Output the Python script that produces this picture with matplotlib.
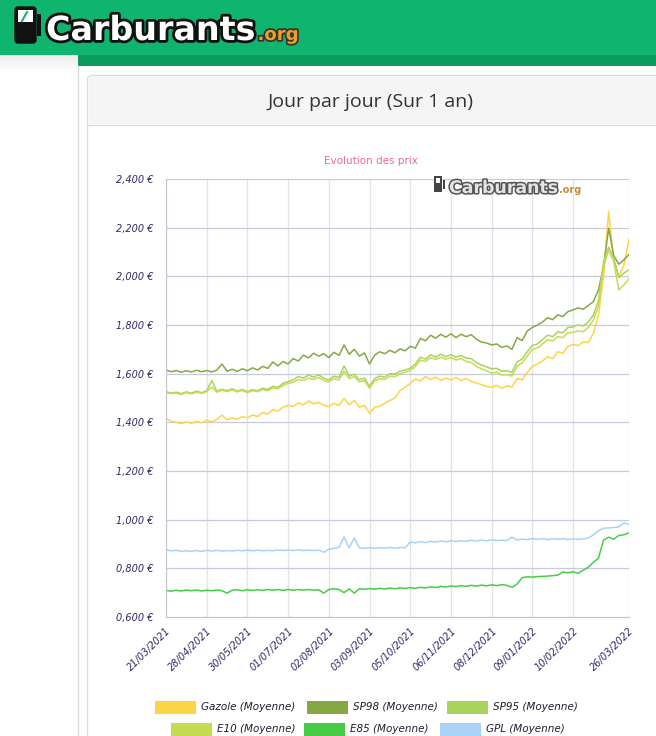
import numpy as np
import matplotlib
matplotlib.use("Agg")
from matplotlib import pyplot as plt
from matplotlib.patches import Rectangle, FancyBboxPatch
import matplotlib.patheffects as pe

# category positions (one every 4 days) and the date labels of the x axis
day_index = list(range(0, 365, 4))
tick_index = [0, 32, 64, 96, 128, 160, 192, 224, 256, 288, 320, 364]
tick_dates = ["21/03/2021", "28/04/2021", "30/05/2021", "01/07/2021", "02/08/2021",
              "03/09/2021", "05/10/2021", "06/11/2021", "08/12/2021", "09/01/2022",
              "10/02/2022", "26/03/2022"]

gazole = [1.416, 1.405, 1.400, 1.395, 1.402, 1.396, 1.404, 1.398,
          1.409, 1.402, 1.412, 1.430, 1.410, 1.418, 1.412, 1.424,
          1.418, 1.430, 1.424, 1.440, 1.434, 1.452, 1.446, 1.462,
          1.470, 1.465, 1.480, 1.472, 1.488, 1.476, 1.482, 1.470,
          1.464, 1.478, 1.470, 1.498, 1.472, 1.490, 1.462, 1.470,
          1.437, 1.462, 1.466, 1.478, 1.490, 1.500, 1.530, 1.545,
          1.560, 1.578, 1.570, 1.588, 1.576, 1.586, 1.572, 1.582,
          1.574, 1.585, 1.572, 1.580, 1.568, 1.562, 1.555, 1.548,
          1.544, 1.552, 1.540, 1.550, 1.545, 1.580, 1.575, 1.605,
          1.630, 1.640, 1.652, 1.670, 1.662, 1.690, 1.684, 1.712,
          1.720, 1.715, 1.730, 1.728, 1.766, 1.840, 2.000, 2.267,
          2.060, 2.000, 2.045, 2.153]
sp98 = [1.615, 1.608, 1.613, 1.606, 1.612, 1.607, 1.614, 1.608,
        1.613, 1.607, 1.615, 1.640, 1.610, 1.618, 1.609, 1.620,
        1.612, 1.624, 1.615, 1.630, 1.622, 1.648, 1.632, 1.650,
        1.640, 1.662, 1.652, 1.676, 1.665, 1.684, 1.672, 1.682,
        1.666, 1.688, 1.675, 1.718, 1.680, 1.700, 1.672, 1.685,
        1.640, 1.676, 1.690, 1.682, 1.696, 1.686, 1.702, 1.694,
        1.712, 1.705, 1.745, 1.735, 1.758, 1.746, 1.762, 1.750,
        1.764, 1.748, 1.762, 1.752, 1.760, 1.742, 1.730, 1.726,
        1.718, 1.722, 1.708, 1.714, 1.700, 1.748, 1.736, 1.775,
        1.790, 1.800, 1.812, 1.830, 1.822, 1.842, 1.835, 1.855,
        1.862, 1.870, 1.865, 1.880, 1.896, 1.944, 2.040, 2.198,
        2.085, 2.050, 2.068, 2.090]
sp95 = [1.526, 1.520, 1.524, 1.518, 1.525, 1.520, 1.528, 1.522,
        1.530, 1.572, 1.528, 1.536, 1.530, 1.538, 1.528, 1.535,
        1.526, 1.534, 1.530, 1.540, 1.536, 1.548, 1.544, 1.560,
        1.567, 1.575, 1.588, 1.582, 1.594, 1.586, 1.595, 1.582,
        1.574, 1.590, 1.584, 1.632, 1.590, 1.598, 1.575, 1.582,
        1.548, 1.580, 1.590, 1.586, 1.600, 1.598, 1.610, 1.615,
        1.622, 1.640, 1.668, 1.660, 1.678, 1.668, 1.680, 1.670,
        1.678, 1.668, 1.675, 1.664, 1.662, 1.645, 1.636, 1.628,
        1.620, 1.622, 1.610, 1.612, 1.606, 1.648, 1.660, 1.690,
        1.716, 1.722, 1.740, 1.758, 1.752, 1.772, 1.768, 1.790,
        1.792, 1.800, 1.796, 1.812, 1.841, 1.900, 2.060, 2.120,
        2.075, 1.995, 2.013, 2.027]
e10 = [1.522, 1.518, 1.520, 1.515, 1.522, 1.517, 1.524, 1.519,
       1.526, 1.545, 1.524, 1.532, 1.526, 1.534, 1.525, 1.531,
       1.522, 1.530, 1.526, 1.535, 1.530, 1.542, 1.538, 1.552,
       1.560, 1.565, 1.576, 1.572, 1.582, 1.576, 1.584, 1.572,
       1.566, 1.580, 1.574, 1.610, 1.580, 1.588, 1.566, 1.572,
       1.540, 1.570, 1.580, 1.576, 1.590, 1.588, 1.600, 1.606,
       1.612, 1.630, 1.656, 1.650, 1.666, 1.658, 1.668, 1.660,
       1.666, 1.656, 1.662, 1.650, 1.646, 1.630, 1.620, 1.612,
       1.602, 1.606, 1.594, 1.596, 1.590, 1.630, 1.645, 1.672,
       1.700, 1.706, 1.722, 1.740, 1.734, 1.752, 1.748, 1.768,
       1.770, 1.776, 1.772, 1.790, 1.821, 1.876, 2.040, 2.109,
       2.060, 1.944, 1.965, 1.990]
e85 = [0.710, 0.706, 0.710, 0.707, 0.711, 0.708, 0.711, 0.707,
       0.710, 0.708, 0.711, 0.708, 0.698, 0.710, 0.712, 0.708,
       0.712, 0.709, 0.712, 0.709, 0.713, 0.710, 0.713, 0.709,
       0.713, 0.710, 0.713, 0.710, 0.713, 0.710, 0.712, 0.698,
       0.713, 0.716, 0.713, 0.700, 0.716, 0.698, 0.716, 0.714,
       0.717, 0.714, 0.718, 0.715, 0.719, 0.716, 0.720, 0.717,
       0.721, 0.718, 0.722, 0.719, 0.724, 0.721, 0.726, 0.723,
       0.728, 0.725, 0.729, 0.726, 0.730, 0.727, 0.731, 0.728,
       0.732, 0.729, 0.733, 0.730, 0.722, 0.735, 0.762, 0.765,
       0.764, 0.766, 0.767, 0.768, 0.770, 0.772, 0.785, 0.782,
       0.786, 0.780, 0.792, 0.805, 0.825, 0.842, 0.916, 0.928,
       0.920, 0.935, 0.938, 0.946]
gpl = [0.877, 0.872, 0.874, 0.870, 0.872, 0.870, 0.873, 0.870,
       0.874, 0.871, 0.874, 0.871, 0.873, 0.871, 0.874, 0.872,
       0.875, 0.872, 0.875, 0.872, 0.874, 0.872, 0.876, 0.873,
       0.875, 0.873, 0.876, 0.873, 0.875, 0.873, 0.875, 0.866,
       0.878, 0.882, 0.886, 0.929, 0.884, 0.925, 0.884, 0.882,
       0.885, 0.882, 0.885, 0.883, 0.886, 0.883, 0.886, 0.884,
       0.908, 0.905, 0.910, 0.906, 0.911, 0.908, 0.912, 0.909,
       0.913, 0.910, 0.914, 0.911, 0.915, 0.912, 0.916, 0.913,
       0.917, 0.914, 0.916, 0.914, 0.928, 0.916, 0.920, 0.918,
       0.922, 0.919, 0.922, 0.918, 0.922, 0.919, 0.922, 0.918,
       0.921, 0.919, 0.921, 0.924, 0.937, 0.955, 0.965, 0.966,
       0.968, 0.970, 0.987, 0.980]

series_names = ["Gazole (Moyenne)", "SP98 (Moyenne)", "SP95 (Moyenne)",
                "E10 (Moyenne)", "E85 (Moyenne)", "GPL (Moyenne)"]
series_values = [gazole, sp98, sp95, e10, e85, gpl]
series_colors = ["#fdd445", "#86a844", "#a8d45e", "#c5dc52", "#48cc48", "#a8d2f6"]

W, H = 656, 736
NAVY = "#2c2a6a"
LOGO_FONT = "DejaVu Sans"


def main():
    fig = plt.figure(figsize=(W / 100, H / 100), dpi=100)
    fig.patch.set_facecolor("white")

    bg = pixel_axes(fig, 0)
    draw_page(fig, bg)

    # plot area in pixels: x 166..629, y 179..617
    left, right, top, bottom = 166, 629, 179, 617
    ax = fig.add_axes([left / W, 1 - bottom / H, (right - left) / W, (bottom - top) / H])
    ax.set_zorder(1)
    draw_chart(ax)

    fg = pixel_axes(fig, 2)
    draw_watermark(fig, fg)
    draw_legend(fg)

    plt.savefig("out.png", dpi=100)
    plt.close()


def pixel_axes(fig, z):
    a = fig.add_axes([0, 0, 1, 1])
    a.set_xlim(0, W)
    a.set_ylim(H, 0)
    a.axis("off")
    a.set_zorder(z)
    a.patch.set_alpha(0)
    return a


def right_edge(fig, a, t):
    # right end of a text, in the pixel coords of axes a
    fig.canvas.draw()
    bb = t.get_window_extent()
    return a.transData.inverted().transform((bb.x1, bb.y0))[0]


def draw_page(fig, bg):
    # green header band
    bg.add_patch(Rectangle((0, 0), W, 55, color="#0fb46f", lw=0))
    bg.add_patch(Rectangle((78, 55), W - 78, 11, color="#0b9d5e", lw=0))
    # soft shadow under the header on the left column
    for i in range(8):
        bg.add_patch(Rectangle((0, 55 + i * 2), 78, 2, color="#000000",
                               alpha=0.07 * (1 - i / 8), lw=0))
    bg.plot([78, 78], [66, H], color="#dddddd", lw=1)

    # pump icon
    bg.add_patch(FancyBboxPatch((15, 7), 21, 36, boxstyle="round,pad=0,rounding_size=3",
                                fc="#111111", ec="#111111"))
    bg.add_patch(Rectangle((18, 10), 15, 12, fc="white", ec="none"))
    bg.plot([22, 27], [21, 12], color="#0fb46f", lw=1.5)
    bg.add_patch(Rectangle((37, 14), 4, 22, fc="#111111", ec="none"))
    outline = [pe.withStroke(linewidth=4, foreground="#111111")]
    t = bg.text(46, 40, "Carburants", fontsize=24, fontweight="bold", color="white",
                family=LOGO_FONT, path_effects=outline, va="baseline")
    x1 = right_edge(fig, bg, t)
    bg.text(x1 + 2, 40, ".org", fontsize=13, fontweight="bold", color="#f0a020",
            family=LOGO_FONT, path_effects=[pe.withStroke(linewidth=2.5, foreground="#333333")],
            va="baseline")

    # card
    bg.add_patch(FancyBboxPatch((87.5, 75.5), 600, 700, boxstyle="round,pad=0,rounding_size=4",
                                fc="white", ec="#dcdcdc", lw=1))
    bg.add_patch(Rectangle((88.5, 76.5), 600, 47.5, fc="#f5f5f5", ec="none"))
    bg.plot([88, W], [124.5, 124.5], color="#dcdcdc", lw=1)
    bg.text(370, 102, "Jour par jour (Sur 1 an)", fontsize=14, color="#333333",
            family="Open Sans", ha="center", va="center")
    bg.text(371, 161, "Evolution des prix", fontsize=7.5, color="#ea6d8d",
            family="DejaVu Sans", ha="center", va="center")


def draw_chart(ax):
    for vals, col in zip(series_values, series_colors):
        ax.plot(day_index, vals, color=col, lw=1.1, solid_joinstyle="round")

    ax.set_xlim(0, 364)
    ax.set_ylim(0.6, 2.4)
    yt = [0.6, 0.8, 1.0, 1.2, 1.4, 1.6, 1.8, 2.0, 2.2, 2.4]
    ax.set_yticks(yt)
    ax.set_yticklabels(["{:.3f} €".format(v).replace(".", ",") for v in yt])
    ax.set_xticks(tick_index)
    ax.set_xticklabels(tick_dates, rotation=45, ha="right", rotation_mode="anchor")

    for lab in ax.get_yticklabels() + ax.get_xticklabels():
        lab.set_fontstyle("italic")
        lab.set_fontsize(7)
        lab.set_color(NAVY)
    ax.tick_params(axis="y", length=0, pad=9)
    ax.tick_params(axis="x", length=0, pad=6)

    ax.grid(axis="y", color="#c9c9dc", lw=0.9)
    ax.grid(axis="x", color="#e2e2ec", lw=0.9)
    ax.set_axisbelow(True)
    for s in ["top", "right"]:
        ax.spines[s].set_visible(False)
    ax.spines["left"].set_color("#c4c4d2")
    ax.spines["bottom"].set_color("#c4c4d2")
    ax.set_facecolor("white")


def draw_watermark(fig, fg):
    fg.add_patch(Rectangle((434, 176), 8, 16, fc="#444444", ec="none"))
    fg.add_patch(Rectangle((436, 178), 4, 5, fc="white", ec="none"))
    fg.add_patch(Rectangle((443, 180), 2, 9, fc="#444444", ec="none"))
    t = fg.text(449, 193, "Carburants", fontsize=12.5, fontweight="bold", color="#e4e4e4",
                family=LOGO_FONT, va="baseline",
                path_effects=[pe.withStroke(linewidth=2.2, foreground="#555555")])
    x1 = right_edge(fig, fg, t)
    fg.text(x1 + 1, 193, ".org", fontsize=7, fontweight="bold", color="#c98a3a",
            family=LOGO_FONT, va="baseline")


def draw_legend(fg):
    # (swatch left x, centre y) for every series, two rows as in the page
    slots = [(155, 707), (307, 707), (447, 707), (171, 729), (304, 729), (440, 729)]
    for (x, y), name, col in zip(slots, series_names, series_colors):
        fg.add_patch(Rectangle((x, y - 6.5), 41, 13, fc=col, ec="none"))
        fg.text(x + 46, y, name, fontsize=7.5, fontstyle="italic", color="#1e1e2e",
                va="center", ha="left")


if __name__ == "__main__":
    main()
